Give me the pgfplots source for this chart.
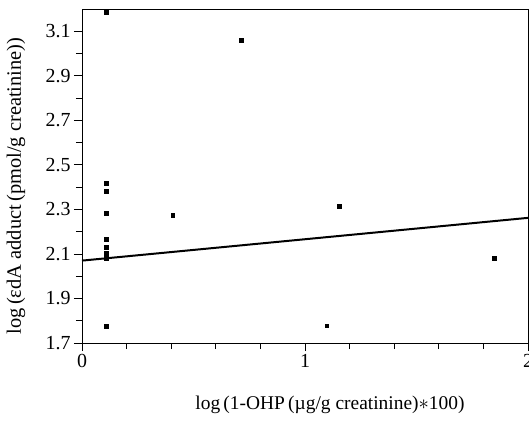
\documentclass[border=0pt]{standalone}
\usepackage{fontspec}
\setmainfont{Liberation Serif}
\usepackage{pgfplots}
\pgfplotsset{compat=1.18}
\begin{document}
\begin{tikzpicture}
\begin{axis}[
  scale only axis,
  width=446bp, height=334bp,
  xmin=0, xmax=2, ymin=1.7, ymax=3.2,
  xtick={0,1,2}, minor x tick num=4,
  ytick={1.7,1.9,...,3.15}, minor ytick={1.8,2.0,...,3.05},
  xtick pos=left, ytick pos=left,
  tick align=outside,
  major tick length=8bp, minor tick length=6bp,
  every tick/.style={black, line width=0.8pt},
  axis line style={line width=0.8pt},
  yticklabel style={/pgf/number format/.cd, fixed, fixed zerofill, precision=1},
  /pgf/number format/assume math mode=true,
  tick label style={font=\fontsize{20}{24}\selectfont},
  xlabel={log\,(1-OHP\,(µg/g creatinine)$*$100)},
  ylabel={log\,(εdA adduct\,(pmol/g creatinine))},
  xlabel style={font=\fontsize{19.5}{23}\selectfont, at={(rel axis cs:0.556,0)}, anchor=center, yshift=-62bp},
  ylabel style={font=\fontsize{20.5}{24}\selectfont, at={(rel axis cs:0,0.47)}, anchor=center, yshift=66bp},
  clip=false,
]
\addplot[only marks, mark=square*, mark size=1.9bp, black] coordinates {
 (0.11,3.185) (0.11,2.416) (0.11,2.382) (0.11,2.282) (0.11,2.166)
 (0.11,2.132) (0.11,2.102) (0.11,2.08) (0.11,1.776)
 (0.407,2.274) (0.713,3.059) (1.152,2.314) (1.097,1.778) (1.849,2.081)
};
\addplot[black, line width=2pt] coordinates {(0,2.07) (2,2.262)};
\coordinate (bl) at (rel axis cs:0,0);
\coordinate (tr) at (rel axis cs:1,1);
\end{axis}
\pgfresetboundingbox
\path[use as bounding box] ([shift={(-82bp,-78bp)}]bl) rectangle ([shift={(1bp,9bp)}]tr);
\end{tikzpicture}
\end{document}
